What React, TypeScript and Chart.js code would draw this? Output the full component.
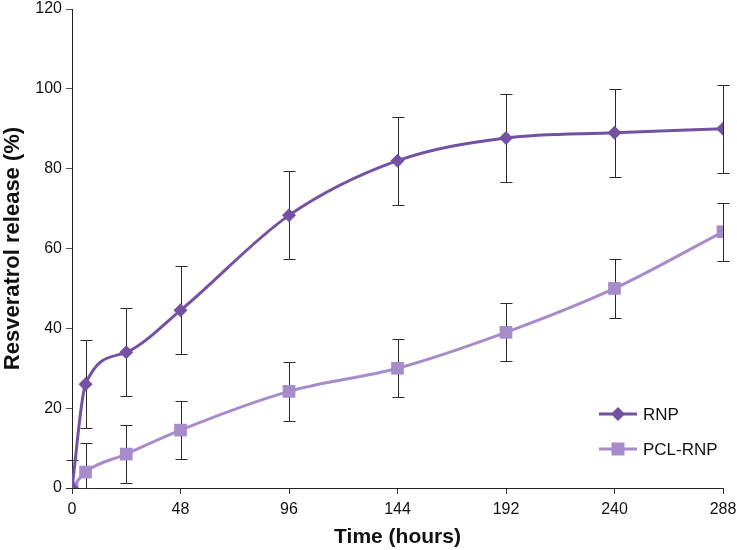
import React, { useEffect, useRef } from "react";
import { Chart, registerables } from "chart.js";

Chart.register(...registerables);

const hours = [0, 6, 24, 48, 96, 144, 192, 240, 288];
const rnp = [0, 26, 34, 44.5, 68.3, 82, 87.7, 89, 90];
const rnpErr = [7, 11, 11, 11, 11, 11, 11, 11, 11];
const pcl = [0, 4, 8.5, 14.5, 24.2, 30, 39, 50, 64.2];
const pclErr = [0, 7.3, 7.3, 7.2, 7.3, 7.3, 7.3, 7.3, 7.3];
const seriesNames = ["RNP", "PCL-RNP"];
const xTicks = [0, 48, 96, 144, 192, 240, 288];
const yTicks = [0, 20, 40, 60, 80, 100, 120];

const RNP_COLOR = "#7352a1";
const PCL_COLOR = "#a78cca";
const FONT = "'Liberation Sans', Arial, sans-serif";

const errorBars = {
  id: "errorBars",
  beforeDatasetsDraw(chart: any) {
    const ctx = chart.ctx;
    const xs = chart.scales.x;
    const ys = chart.scales.y;
    const errs = [rnpErr, pclErr];
    const vals = [rnp, pcl];
    ctx.save();
    ctx.strokeStyle = "#2a2a2a";
    ctx.lineWidth = 1;
    for (let d = 0; d < 2; d++) {
      for (let i = 0; i < hours.length; i++) {
        const e = errs[d][i];
        if (!e) continue;
        const x = Math.round(xs.getPixelForValue(hours[i])) + 0.5;
        const yt = Math.round(ys.getPixelForValue(vals[d][i] + e)) + 0.5;
        const yb = Math.round(ys.getPixelForValue(Math.max(0, vals[d][i] - e))) + 0.5;
        ctx.beginPath();
        ctx.moveTo(x, yt);
        ctx.lineTo(x, yb);
        ctx.moveTo(x - 6, yt);
        ctx.lineTo(x + 6, yt);
        ctx.moveTo(x - 6, yb);
        ctx.lineTo(x + 6, yb);
        ctx.stroke();
      }
    }
    ctx.restore();
  },
};

const customLegend = {
  id: "customLegend",
  afterDraw(chart: any) {
    const ctx = chart.ctx;
    const area = chart.chartArea;
    const x0 = area.right - 124;
    const items = [
      { label: seriesNames[0], color: RNP_COLOR, shape: "diamond", y: area.bottom - 74 },
      { label: seriesNames[1], color: PCL_COLOR, shape: "square", y: area.bottom - 39 },
    ];
    ctx.save();
    for (const it of items) {
      ctx.strokeStyle = it.color;
      ctx.lineWidth = 3;
      ctx.beginPath();
      ctx.moveTo(x0, it.y);
      ctx.lineTo(x0 + 38, it.y);
      ctx.stroke();
      ctx.fillStyle = it.color;
      const cx = x0 + 19;
      ctx.beginPath();
      if (it.shape === "diamond") {
        ctx.moveTo(cx, it.y - 7);
        ctx.lineTo(cx + 7, it.y);
        ctx.lineTo(cx, it.y + 7);
        ctx.lineTo(cx - 7, it.y);
        ctx.closePath();
      } else {
        ctx.rect(cx - 6.5, it.y - 6.5, 13, 13);
      }
      ctx.fill();
      ctx.fillStyle = "#111";
      ctx.font = `17px ${FONT}`;
      ctx.textBaseline = "middle";
      ctx.textAlign = "left";
      ctx.fillText(it.label, x0 + 44, it.y + 1);
    }
    ctx.restore();
  },
};

export default function App() {
  const ref = useRef<HTMLCanvasElement>(null);
  useEffect(() => {
    document.body.style.margin = "0";
    const chart = new Chart(ref.current!, {
      type: "line",
      data: {
        datasets: [
          {
            label: seriesNames[0],
            data: hours.map((h, i) => ({ x: h, y: rnp[i] })),
            borderColor: RNP_COLOR,
            backgroundColor: RNP_COLOR,
            borderWidth: 3,
            pointStyle: "rectRot",
            pointRadius: 7,
            pointBorderWidth: 0,
            cubicInterpolationMode: "monotone",
          },
          {
            label: seriesNames[1],
            data: hours.map((h, i) => ({ x: h, y: pcl[i] })),
            borderColor: PCL_COLOR,
            backgroundColor: PCL_COLOR,
            borderWidth: 3,
            pointStyle: "rect",
            pointRadius: 9,
            pointBorderWidth: 0,
            cubicInterpolationMode: "monotone",
          },
        ],
      },
      options: {
        animation: false,
        responsive: true,
        maintainAspectRatio: false,
        layout: { padding: { top: 0, right: 0, left: 0, bottom: 0 } },
        plugins: { legend: { display: false }, tooltip: { enabled: false } },
        scales: {
          x: {
            type: "linear",
            min: 0,
            max: 288,
            afterBuildTicks: (s: any) => {
              s.ticks = xTicks.map((v) => ({ value: v }));
            },
            afterFit: (s: any) => {
              s.height = 62;
              s.paddingRight = 14;
              s.paddingLeft = 0;
            },
            grid: { drawOnChartArea: false, drawTicks: true, tickLength: 6, color: "#333" },
            border: { display: true, color: "#222", width: 1 },
            ticks: { color: "#111", font: { family: FONT, size: 16 }, padding: 6, maxRotation: 0 },
            title: {
              display: true,
              text: "Time (hours)",
              color: "#111",
              font: { family: FONT, size: 21, weight: "bold" },
              padding: { top: 0, bottom: 0 },
            },
          },
          y: {
            type: "linear",
            min: 0,
            max: 120,
            afterBuildTicks: (s: any) => {
              s.ticks = yTicks.map((v) => ({ value: v }));
            },
            afterFit: (s: any) => {
              s.width = 72;
              s.paddingTop = 7;
              s.paddingBottom = 0;
            },
            grid: { drawOnChartArea: false, drawTicks: true, tickLength: 6, color: "#555" },
            border: { display: true, color: "#222", width: 1 },
            ticks: { color: "#111", font: { family: FONT, size: 16 }, padding: 4 },
            title: {
              display: true,
              text: "Resveratrol release (%)",
              color: "#111",
              font: { family: FONT, size: 22, weight: "bold" },
              padding: { top: 0, bottom: 0 },
            },
          },
        },
      },
      plugins: [errorBars, customLegend],
    });
    return () => chart.destroy();
  }, []);
  return (
    <div style={{ width: 737, height: 550, position: "relative" }}>
      <canvas ref={ref} />
    </div>
  );
}
